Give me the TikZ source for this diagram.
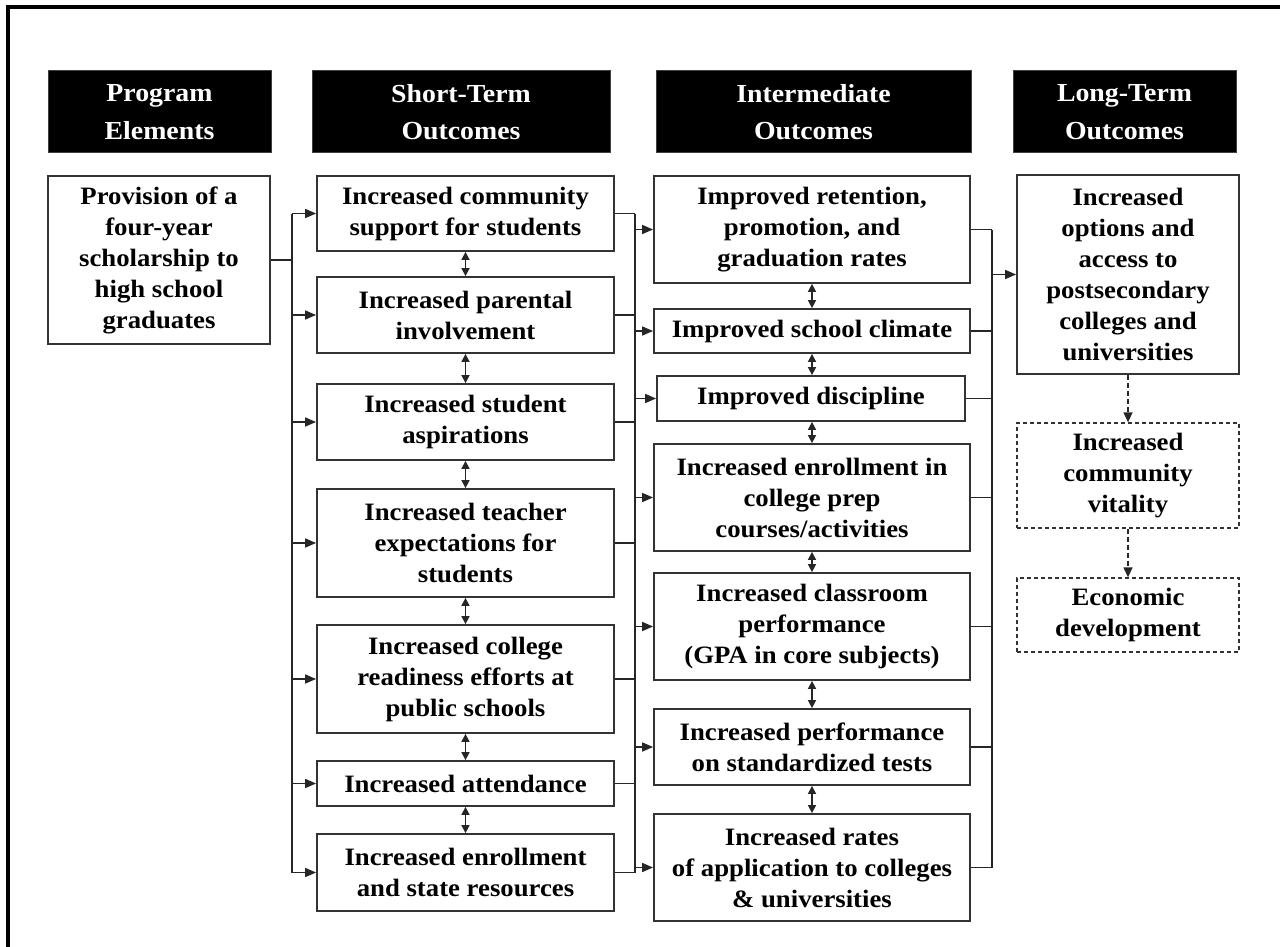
\documentclass[tikz,border=0pt]{standalone}
\usepackage{fontspec}
\setmainfont{Liberation Serif}[FakeStretch=1.07]
\usetikzlibrary{arrows.meta}
\tikzset{
  bx/.style={draw=black!80, line width=1.8pt, align=center, inner sep=0pt,
    font=\fontsize{25}{31}\selectfont\bfseries},
  dbx/.style={bx, line width=1.3pt, dash pattern=on 4pt off 3pt},
  hd/.style={fill=black, draw=black!75, line width=1pt, text=white, align=center,
    inner sep=0pt, font=\fontsize{26}{37.7}\selectfont\bfseries},
  ln/.style={line width=1.6pt, draw=black!85},
  arr/.style={ln, -{Triangle[length=11pt,width=9pt]}},
  darr/.style={ln, {Triangle[length=8pt,width=8pt]}-{Triangle[length=8pt,width=8pt]}},
  dln/.style={ln, line width=1.3pt, dash pattern=on 5pt off 3pt, -{Triangle[length=10pt,width=9pt]}},
}
\begin{document}
\begin{tikzpicture}[x=1pt,y=-1pt]
\fill[white] (0,0) rectangle (1280,947);
\useasboundingbox (0,0) rectangle (1280,947);
\draw[line width=4.5pt, line join=miter] (8,960) -- (8,7) -- (1290,7);

% headers
\node[hd, minimum width=223pt, minimum height=82pt] (hPE) at (159.5,112) {Program\\Elements};
\node[hd, minimum width=298pt, minimum height=82pt] (hST) at (461,112) {Short-Term\\Outcomes};
\node[hd, minimum width=315pt, minimum height=82pt] (hIO) at (813.5,112) {Intermediate\\Outcomes};
\node[hd, minimum width=223pt, minimum height=82pt] (hLT) at (1124.5,112) {Long-Term\\Outcomes};

% program element
\node[bx, minimum width=222pt, minimum height=168pt] (prov) at (159,260)
  {Provision of a\\four-year\\scholarship to\\high school\\graduates};

% short-term
\node[bx, minimum width=297pt, minimum height=75pt] (st1) at (465.5,213.5) {Increased community\\support for students};
\node[bx, minimum width=297pt, minimum height=76pt] (st2) at (465.5,315) {Increased parental\\involvement};
\node[bx, minimum width=297pt, minimum height=76pt] (st3) at (465.5,422) {Increased student\\aspirations};
\node[bx, minimum width=297pt, minimum height=108pt] (st4) at (465.5,543) {Increased teacher\\expectations for\\students};
\node[bx, minimum width=297pt, minimum height=108pt] (st5) at (465.5,679) {Increased college\\readiness efforts at\\public schools};
\node[bx, minimum width=297pt, minimum height=45pt] (st6) at (465.5,783.5) {Increased attendance};
\node[bx, minimum width=297pt, minimum height=77pt] (st7) at (465.5,872.5) {Increased enrollment\\and state resources};

% intermediate
\node[bx, minimum width=316pt, minimum height=107pt] (io1) at (812,229.5) {Improved retention,\\promotion, and\\graduation rates};
\node[bx, minimum width=316pt, minimum height=44pt] (io2) at (812,331) {Improved school climate};
\node[bx, minimum width=308pt, minimum height=45pt] (io3) at (811,398.5) {Improved discipline};
\node[bx, minimum width=316pt, minimum height=107pt] (io4) at (812,497.5) {Increased enrollment in\\college prep\\courses/activities};
\node[bx, minimum width=316pt, minimum height=107pt] (io5) at (812,626.5) {Increased classroom\\performance\\(GPA in core subjects)};
\node[bx, minimum width=316pt, minimum height=76pt] (io6) at (812,747) {Increased performance\\on standardized tests};
\node[bx, minimum width=316pt, minimum height=107pt] (io7) at (812,867.5) {Increased rates\\of application to colleges\\\& universities};

% long-term
\node[bx, minimum width=222pt, minimum height=199pt] (lt1) at (1128,274.5)
  {Increased\\options and\\access to\\postsecondary\\colleges and\\universities};
\node[dbx, minimum width=222pt, minimum height=105pt] (lt2) at (1128,475.5) {Increased\\community\\vitality};
\node[dbx, minimum width=222pt, minimum height=74pt] (lt3) at (1128,615) {Economic\\development};

% buses
\coordinate (b1) at (292,0);
\coordinate (b2) at (635,0);
\coordinate (b3) at (992,0);

% program -> short-term
\draw[ln] (prov.east) -- (prov.east -| b1);
\draw[ln] (st1.west -| b1) -- (st7.west -| b1);
\foreach \n in {st1,st2,st3,st4,st5,st6,st7}
  \draw[arr] (\n.west -| b1) -- (\n.west);

% short-term -> intermediate
\foreach \n in {st1,st2,st3,st4,st5,st6,st7}
  \draw[ln] (\n.east) -- (\n.east -| b2);
\draw[ln] (st1.east -| b2) -- (st7.east -| b2);
\foreach \n in {io1,io2,io3,io4,io5,io6,io7}
  \draw[arr] (\n.west -| b2) -- (\n.west);

% intermediate -> long-term
\foreach \n in {io1,io2,io3,io4,io5,io6,io7}
  \draw[ln] (\n.east) -- (\n.east -| b3);
\draw[ln] (io1.east -| b3) -- (io7.east -| b3);
\draw[arr] (lt1.west -| b3) -- (lt1.west);

% double arrows
\draw[darr] (st1.south) -- (st2.north);
\draw[darr] (st2.south) -- (st3.north);
\draw[darr] (st3.south) -- (st4.north);
\draw[darr] (st4.south) -- (st5.north);
\draw[darr] (st5.south) -- (st6.north);
\draw[darr] (st6.south) -- (st7.north);
\draw[darr] (io1.south) -- (io2.north);
\draw[darr] (io2.south) -- (io3.north -| io2.south);
\draw[darr] (io3.south -| io2.south) -- (io4.north);
\draw[darr] (io4.south) -- (io5.north);
\draw[darr] (io5.south) -- (io6.north);
\draw[darr] (io6.south) -- (io7.north);

% dashed
\draw[dln] (lt1.south) -- (lt2.north);
\draw[dln] (lt2.south) -- (lt3.north);
\end{tikzpicture}
\end{document}
